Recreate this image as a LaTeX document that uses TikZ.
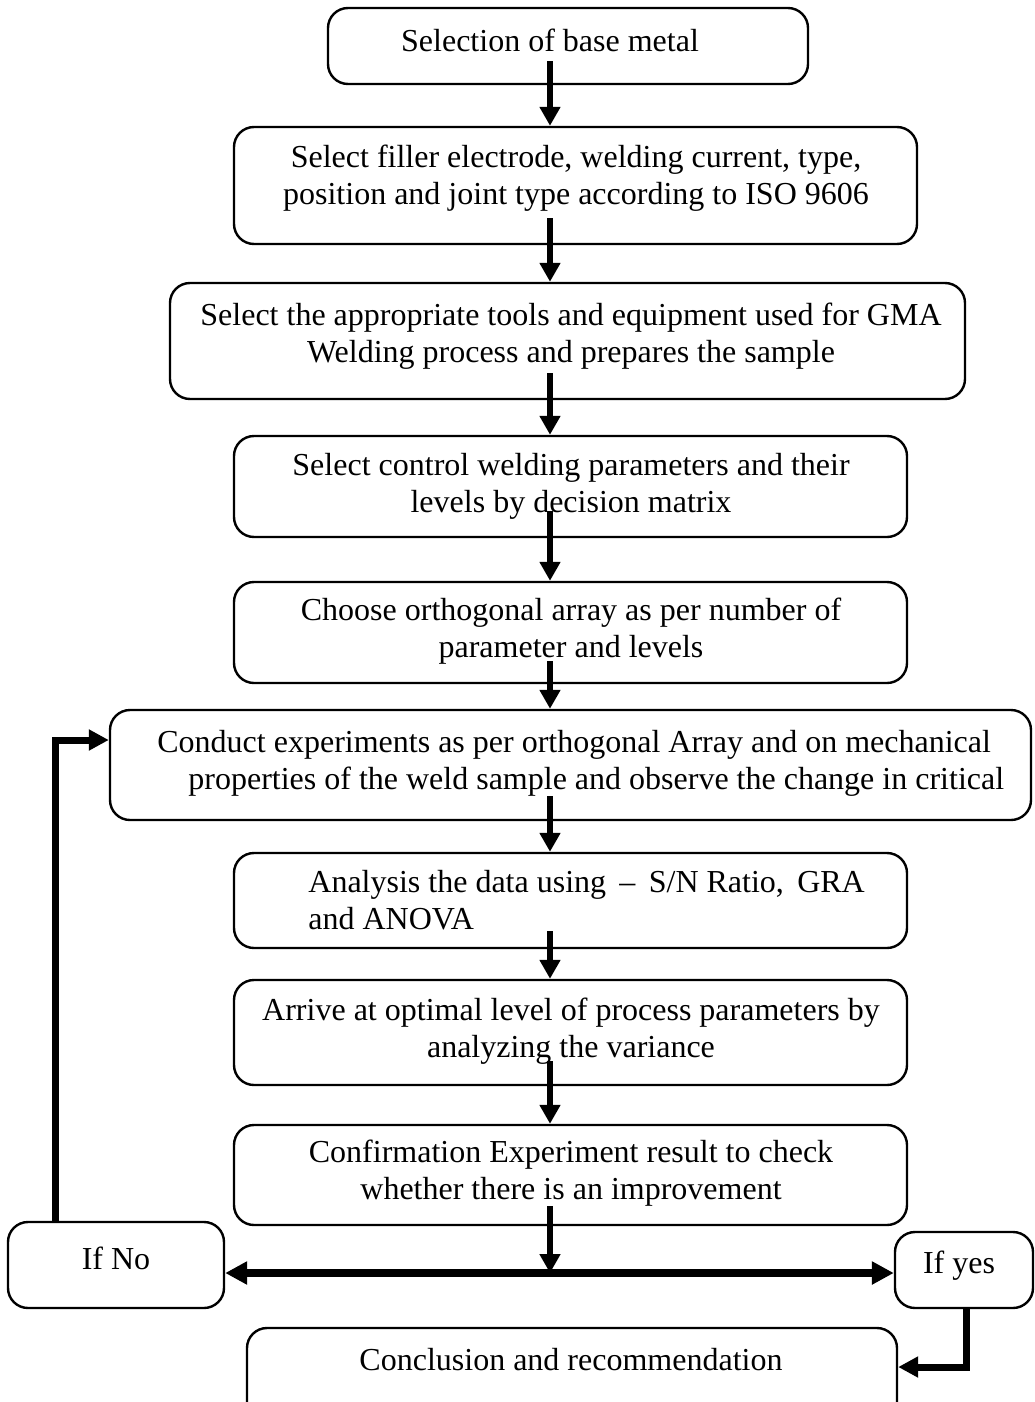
\documentclass[tikz,border=0pt]{standalone}
\usepackage{fontspec}
\setmainfont{Liberation Serif}
\usetikzlibrary{arrows.meta,fit,calc}
\begin{document}
\begin{tikzpicture}[x=0.5pt,y=-0.5pt,
  box/.style={draw,line width=1.2pt,rounded corners=10pt,inner sep=0pt},
  txt/.style={inner sep=0pt,align=center,font=\fontsize{16pt}{18.5pt}\selectfont},
  arr/.style={line width=3pt,-{Triangle[width=10pt,length=9.5pt]}},
  thickarr/.style={line width=4pt,-{Triangle[width=11pt,length=11pt]}},
  looparr/.style={line width=3.5pt,-{Triangle[width=10pt,length=10pt]}}]
\useasboundingbox (0,0) rectangle (1034,1402);
\clip (0,0) rectangle (1034,1402);
\coordinate (axis) at (550,0);
% boxes
\node[box,fit={(328,8) (808,84)}] (b1) {};
\node[box,fit={(234,127) (917,244)}] (b2) {};
\node[box,fit={(170,283) (965,399)}] (b3) {};
\node[box,fit={(234,436) (907,537)}] (b4) {};
\node[box,fit={(234,582) (907,683)}] (b5) {};
\node[box,fit={(110,710) (1031,820)}] (b6) {};
\node[box,fit={(234,853) (907,948)}] (b7) {};
\node[box,fit={(234,980) (907,1085)}] (b8) {};
\node[box,fit={(234,1125) (907,1225)}] (b9) {};
\node[box,fit={(8,1222) (224,1308)}] (no) {};
\node[box,fit={(895,1232) (1033,1308)}] (yes) {};
\node[box,fit={(247,1328) (897,1430)}] (concl) {};
% texts
\node[txt] (t1) at (550,40) {Selection of base metal};
\node[txt] (t2) at (576,178) {Select filler electrode, welding current, type,\\position and joint type according to ISO 9606};
\node[txt] (t3) at (571,336) {Select the appropriate tools and equipment used for GMA\\Welding process and prepares the sample};
\node[txt] (t4) at (571,486) {Select control welding parameters and their\\levels by decision matrix};
\node[txt] (t5) at (571,631) {Choose orthogonal array as per number of\\parameter and levels};
\node[txt,align=left,anchor=west] (t6) at (157,763) {Conduct experiments as per orthogonal Array and on mechanical\\\hspace*{15.5pt}properties of the weld sample and observe the change in critical};
\node[txt,align=left,anchor=west] (t7) at (308,900) {Analysis the data using \,--\, S/N Ratio, \,GRA\\and ANOVA};
\node[txt] (t8) at (571,1031) {Arrive at optimal level of process parameters by\\analyzing the variance};
\node[txt] (t9) at (571,1173) {Confirmation Experiment result to check\\whether there is an improvement};
\node[txt] (t10) at (116,1258) {If No};
\node[txt] (t11) at (959,1266) {If yes};
\node[txt] (t12) at (571,1360) {Conclusion and recommendation};
% connectors
\draw[arr] ([yshift=12pt]b1.south -| axis) -- (b2.north -| axis);
\draw[arr] ([yshift=13.5pt]b2.south -| axis) -- (b3.north -| axis);
\draw[arr] ([yshift=13.5pt]b3.south -| axis) -- (b4.north -| axis);
\draw[arr] ([yshift=13.5pt]b4.south -| axis) -- (b5.north -| axis);
\draw[arr] ([yshift=11.5pt]b5.south -| axis) -- (b6.north -| axis);
\draw[arr] ([yshift=12.5pt]b6.south -| axis) -- (b7.north -| axis);
\draw[arr] ([yshift=9pt]b7.south -| axis) -- (b8.north -| axis);
\draw[arr] ([yshift=12.5pt]b8.south -| axis) -- (b9.north -| axis);
\coordinate (hub) at (550,1273);
\draw[arr] ([yshift=10pt]b9.south -| axis) -- (hub);
\draw[thickarr] (hub) -- (no.east |- hub);
\draw[thickarr] (hub) -- (yes.west |- hub);
\coordinate (loop) at (55,740);
\draw[looparr] (no.north -| loop) |- (b6.west |- loop);
\coordinate (ycorner) at (966,1367);
\draw[looparr] (yes.south -| ycorner) |- (concl.east |- ycorner);
\end{tikzpicture}
\end{document}
